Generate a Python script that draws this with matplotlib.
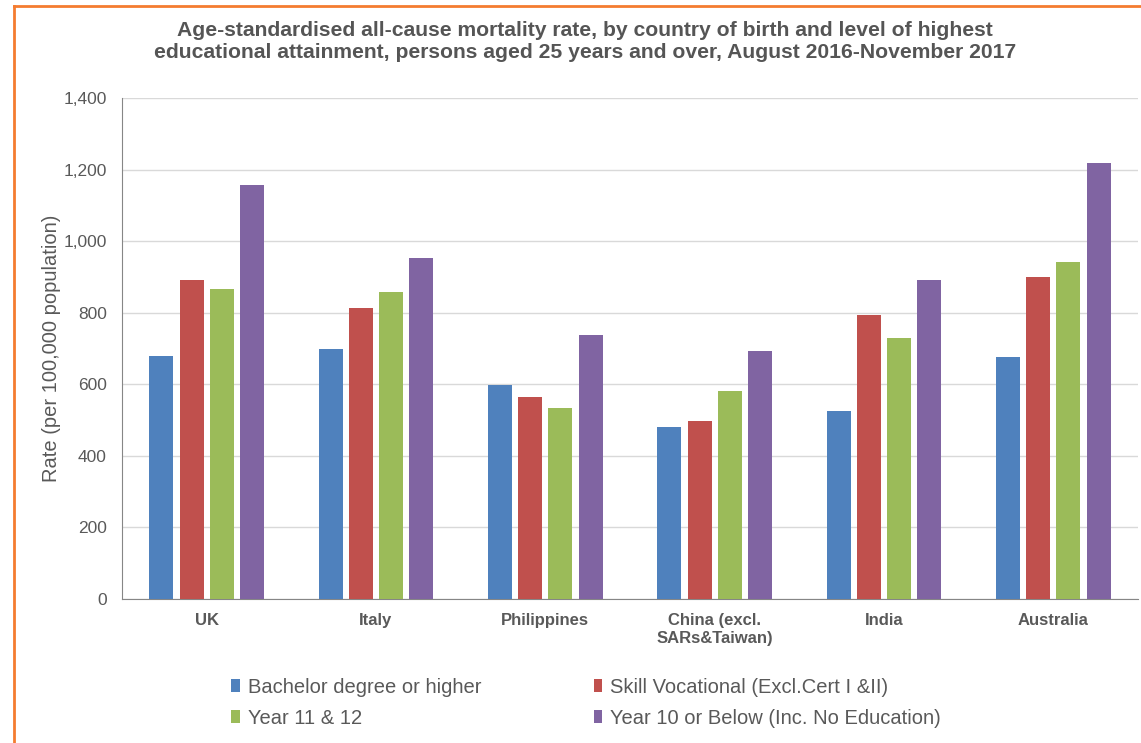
import numpy as np
import matplotlib.pyplot as plt
from matplotlib.lines import Line2D
from matplotlib.patches import Patch

countries = ['UK', 'Italy', 'Philippines', 'China (excl.\nSARs&Taiwan)', 'India', 'Australia']
series_names = ['Bachelor degree or higher',
                'Skill Vocational (Excl.Cert I &II)',
                'Year 11 & 12',
                'Year 10 or Below (Inc. No Education)']
bachelor = [678, 699, 599, 481, 524, 677]
vocational = [891, 813, 564, 498, 795, 899]
year_11_12 = [866, 857, 534, 582, 729, 943]
year_10 = [1158, 953, 739, 694, 891, 1219]

colors = ['#4F81BD', '#C0504D', '#9BBB59', '#8064A2']
text_color = '#595959'

plt.rcParams['font.family'] = ['Liberation Sans', 'DejaVu Sans']

fig = plt.figure(figsize=(11.41, 7.43), dpi=100)
ax = fig.add_axes([0.1069, 0.1938, 0.8905, 0.6743])

x = np.arange(len(countries))
step = 0.178
width = 0.142
for i, (vals, c) in enumerate(zip([bachelor, vocational, year_11_12, year_10], colors)):
    ax.bar(x + (i - 1.5) * step, vals, width=width, color=c, zorder=3)

ax.set_xlim(-0.5, len(countries) - 0.5)
ax.set_ylim(0, 1400)
ax.set_yticks(range(0, 1401, 200))
ax.set_yticklabels([f'{v:,}' for v in range(0, 1401, 200)], fontsize=12.5, color=text_color)
ax.set_xticks(x)
ax.set_xticklabels(countries, fontsize=12, fontweight='bold', color=text_color,
                   linespacing=1.25)
ax.tick_params(axis='y', length=0, pad=11)
ax.tick_params(axis='x', length=0, pad=10)
ax.grid(axis='y', color='#d9d9d9', linewidth=1, zorder=0)

for side in ['top', 'right']:
    ax.spines[side].set_visible(False)
ax.spines['left'].set_color('#868686')
ax.spines['bottom'].set_color('#868686')

ax.set_ylabel('Rate (per 100,000 population)', fontsize=14.5, color=text_color, labelpad=2)

fig.text(0.513, 0.972,
         'Age-standardised all-cause mortality rate, by country of birth and level of highest\n'
         'educational attainment, persons aged 25 years and over, August 2016-November 2017',
         ha='center', va='top', fontsize=15.2, fontweight='bold', color='#555555',
         linespacing=1.2)

handles = [Patch(facecolor=c, edgecolor='none') for c in colors]
order = [0, 2, 1, 3]
leg = fig.legend([handles[i] for i in order], [series_names[i] for i in order],
                 ncol=2, loc='upper left', bbox_to_anchor=(0.187, 0.1125), frameon=False,
                 handlelength=0.4, handleheight=0.6, handletextpad=0.4,
                 columnspacing=5.6, labelspacing=0.6,
                 prop={'size': 14.5})
for t in leg.get_texts():
    t.set_color(text_color)

# orange frame along the top and left edges
fig.add_artist(Line2D([0.0123, 1.0], [0.992, 0.992], color='#F47C30', linewidth=2,
                      transform=fig.transFigure))
fig.add_artist(Line2D([0.0123, 0.0123], [0.0, 0.992], color='#F47C30', linewidth=2,
                      transform=fig.transFigure))

fig.savefig('out.png', dpi=100)
